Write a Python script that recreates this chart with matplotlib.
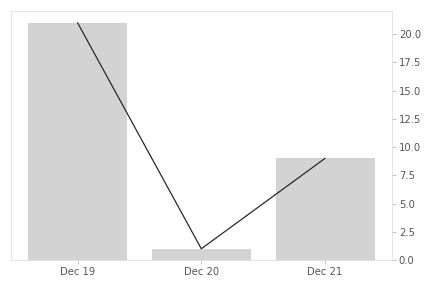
import numpy as np
import matplotlib.pyplot as plt

labels = ["Dec 19", "Dec 20", "Dec 21"]
counts = [21, 1, 9]

fig, ax = plt.subplots(figsize=(6, 4), dpi=72)
fig.subplots_adjust(left=0.025, right=0.907, top=0.962, bottom=0.097)

x = np.arange(len(labels))
ax.bar(x, counts, width=0.8, color="#d3d3d3")
ax.plot(x, counts, color="#222222", linewidth=1.2)

ax.set_xticks(x)
ax.set_xticklabels(labels)
ax.set_yticks(np.arange(0, 22.5, 2.5))
ax.yaxis.tick_right()
ax.tick_params(colors="#555555", labelsize=10, length=3.5, width=0.6)
ax.tick_params(axis="both", color="#999999")
for s in ax.spines.values():
    s.set_color("#dddddd")
    s.set_linewidth(0.8)

fig.savefig("out.png", dpi=72)
